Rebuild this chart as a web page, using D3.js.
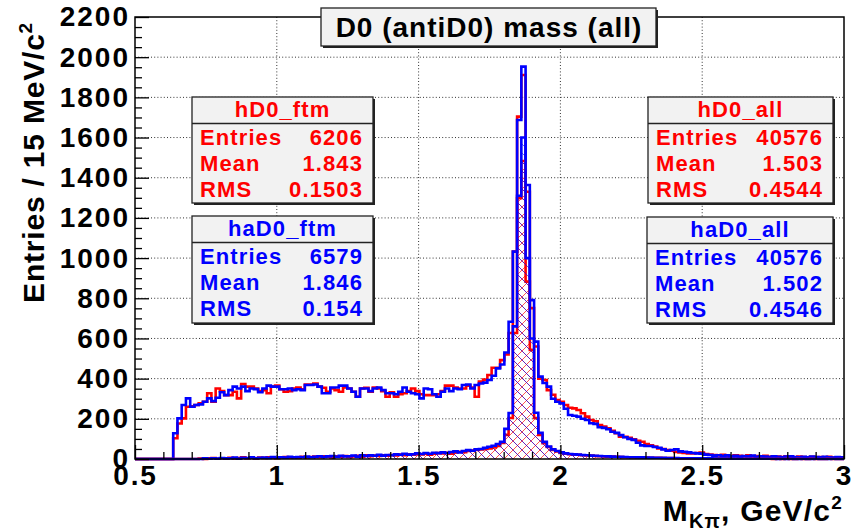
<!DOCTYPE html>
<html>
<head>
<meta charset="utf-8">
<script src="https://cdn.jsdelivr.net/npm/d3@7"></script>
<style>
  body { margin: 0; background: #fff; }
  svg text { font-family: "Liberation Sans", Arial, Helvetica, sans-serif; font-weight: bold; }
</style>
</head>
<body>
<svg id="chart" width="852" height="531"></svg>
<script>
// Histogram binning: 167 bins of ~15 MeV over 0.5 - 3.0 GeV/c^2
const xMin = 0.5, xMax = 3.0, nBins = 167;

// hD0_all : D0 candidates, all (red outline)
const hD0_all = [
  0,0,0,0,0,0,0,0,0,103,
  177,202,260,262,269,277,285,327,285,351,
  338,318,318,335,302,373,360,360,351,338,
  343,327,360,365,347,335,338,351,356,347,
  371,371,376,360,355,335,351,343,335,356,
  351,335,310,351,355,335,356,351,338,310,
  332,310,323,327,338,351,338,322,318,318,
  318,322,338,365,365,356,351,351,365,356,
  310,385,395,418,454,454,492,520,627,1032,
  1704,1911,1330,751,560,400,393,343,320,294,
  285,269,255,252,244,228,211,194,188,169,
  162,153,140,128,111,110,105,98,90,86,
  75,68,62,53,50,45,41,35,32,30,
  28,28,30,32,25,22,20,18,21,17,
  15,19,16,14,18,13,15,12,16,11,
  14,12,10,13,11,9,12,10,8,11,
  9,10,8,11,7,9,8
];

// haD0_all : anti-D0 candidates, all (blue outline)
const haD0_all = [
  0,0,0,0,0,0,0,0,0,128,
  202,269,302,260,269,272,285,302,288,305,
  332,318,343,360,351,360,338,351,348,332,
  351,365,360,360,347,347,351,343,347,343,
  368,368,371,360,327,327,356,356,365,365,
  351,335,310,351,351,338,351,356,343,327,
  327,322,335,356,335,327,322,302,351,347,
  322,310,335,351,338,351,347,368,371,351,
  368,376,380,393,414,451,470,530,683,1032,
  1687,1953,1364,791,584,410,378,360,300,285,
  277,250,219,215,211,200,194,178,175,158,
  155,148,136,130,119,108,100,95,81,68,
  65,65,60,56,48,41,45,48,38,36,
  33,30,28,27,22,20,17,19,15,18,
  14,16,12,15,13,17,11,14,12,10,
  13,11,9,12,14,10,8,11,9,12,
  10,8,11,9,7,10,9
];

// hD0_ftm : D0 candidates passing the ftm selection (red hatched)
const hD0_ftm = [
  0,0,0,0,0,0,0,0,0,0,
  0,0,0,0,0,2,0,3,5,1,
  4,2,6,3,5,8,4,6,3,7,
  5,9,6,4,8,10,6,9,7,11,
  8,10,12,9,13,11,8,14,12,15,
  10,13,16,12,18,14,17,15,19,16,
  20,18,22,19,24,21,25,23,27,22,
  26,29,28,31,27,33,36,34,40,42,
  45,48,50,53,58,65,80,120,204,627,
  1298,1483,883,543,204,120,79,60,45,38,
  30,26,24,22,21,19,18,17,15,14,
  13,12,12,11,10,9,9,8,8,7,
  7,6,6,6,5,5,5,4,4,4,
  4,3,3,3,3,3,2,2,2,2,
  2,2,1,1,1,1,1,1,1,1,
  0,1,0,1,0,0,1,0,0,1,
  0,0,0,1,0,0,0
];

// haD0_ftm : anti-D0 candidates passing the ftm selection (blue hatched)
const haD0_ftm = [
  0,0,0,0,0,0,0,0,0,0,
  0,0,0,0,0,0,3,1,4,2,
  5,3,4,7,2,6,5,8,4,6,
  7,5,10,6,9,7,11,8,10,9,
  12,9,11,14,10,13,15,11,16,13,
  14,17,12,19,15,18,16,21,17,20,
  19,23,21,26,22,24,28,25,30,26,
  31,29,33,30,35,38,33,40,44,41,
  48,50,56,61,66,75,85,150,229,660,
  1310,1600,1000,600,230,130,85,62,48,40,
  33,28,25,23,22,20,19,17,16,15,
  14,13,12,11,11,10,9,9,8,8,
  7,7,6,6,6,5,5,5,4,4,
  4,4,3,3,3,3,2,2,2,2,
  2,2,2,1,1,1,1,1,1,1,
  1,0,1,0,1,0,0,1,0,0,
  1,0,0,0,1,0,0
];

// Axis ticks and labels
const xTickValues = [0.5, 1, 1.5, 2, 2.5, 3];
const xTickLabels = ["0.5", "1", "1.5", "2", "2.5", "3"];
const yTickValues = [0, 200, 400, 600, 800, 1000, 1200, 1400, 1600, 1800, 2000, 2200];

// Statistics boxes
const statNames   = ["hD0_ftm", "haD0_ftm", "hD0_all", "haD0_all"];
const statEntries = ["6206", "6579", "40576", "40576"];
const statMeans   = ["1.843", "1.846", "1.503", "1.502"];
const statRMS     = ["0.1503", "0.154", "0.4544", "0.4546"];

const titleText = "D0 (antiD0) mass (all)";

// ---------------------------------------------------------------
const svg = d3.select("#chart");
const L = 135, R = 844, T = 17, B = 459;
const x = d3.scaleLinear().domain([xMin, xMax]).range([L, R]);
const y = d3.scaleLinear().domain([0, 2200]).range([B, T]);
const binW = (xMax - xMin) / nBins;

const RED = "#ff0000", BLUE = "#0000ff";
const FONT = '"Liberation Sans", Arial, sans-serif';

// hatch patterns
const defs = svg.append("defs");
function hatch(id, color, dirs, width) {
  const s = 9;
  const p = defs.append("pattern").attr("id", id).attr("patternUnits", "userSpaceOnUse")
    .attr("width", s).attr("height", s);
  if (dirs.includes("/")) p.append("path")
    .attr("d", `M-2,2 L2,-2 M0,${s} L${s},0 M${s - 2},${s + 2} L${s + 2},${s - 2}`)
    .attr("stroke", color).attr("stroke-width", width).attr("stroke-opacity", 0.75);
  if (dirs.includes("\\")) p.append("path")
    .attr("d", `M-2,${s - 2} L2,${s + 2} M0,0 L${s},${s} M${s - 2},-2 L${s + 2},2`)
    .attr("stroke", color).attr("stroke-width", width).attr("stroke-opacity", 0.75);
}
hatch("hatchRed", RED, "/\\", 0.9);
hatch("hatchBlue", BLUE, "\\", 0.8);

defs.append("clipPath").attr("id", "plotClip")
  .append("rect").attr("x", L).attr("y", T - 2).attr("width", R - L).attr("height", B - T + 4);

// dotted grid
const grid = svg.append("g").attr("stroke", "#333").attr("stroke-width", 1)
  .attr("stroke-dasharray", "1,2.2");
xTickValues.filter(v => v > xMin && v < xMax).forEach(v => {
  grid.append("line").attr("x1", x(v)).attr("x2", x(v)).attr("y1", T).attr("y2", B);
});
yTickValues.filter(v => v > 0 && v < 2200).forEach(v => {
  grid.append("line").attr("x1", L).attr("x2", R).attr("y1", y(v)).attr("y2", y(v));
});

// histogram outlines as step lines
function stepPoints(vals) {
  const pts = [[xMin, 0]];
  vals.forEach((v, i) => pts.push([xMin + i * binW, v]));
  pts.push([xMax, vals[vals.length - 1]]);
  pts.push([xMax, 0]);
  return pts;
}
const step = d3.line().x(d => x(d[0])).y(d => y(d[1])).curve(d3.curveStepAfter);

const plot = svg.append("g").attr("clip-path", "url(#plotClip)");
function drawHist(vals, color, fill) {
  const d = step(stepPoints(vals));
  if (fill) plot.append("path").attr("d", d).attr("fill", fill).attr("stroke", "none");
  plot.append("path").attr("d", d).attr("fill", "none").attr("stroke", color)
    .attr("stroke-width", 2.6).attr("stroke-linejoin", "miter");
}
drawHist(hD0_all, RED, null);
drawHist(haD0_all, BLUE, null);
drawHist(hD0_ftm, RED, "url(#hatchRed)");
drawHist(haD0_ftm, BLUE, "url(#hatchBlue)");

// frame
svg.append("rect").attr("x", L).attr("y", T).attr("width", R - L).attr("height", B - T)
  .attr("fill", "none").attr("stroke", "#000").attr("stroke-width", 1.5);

// x axis (ticks pointing into the frame)
const xMinor = d3.range(6, 30).map(i => i / 10).filter(v => Math.abs(v * 2 - Math.round(v * 2)) > 1e-6);
svg.append("g").attr("transform", `translate(0,${B})`)
  .call(d3.axisBottom(x).tickValues(xMinor).tickSize(-7).tickFormat(""))
  .call(g => { g.select(".domain").remove(); g.selectAll("line").attr("stroke-width", 1.3); });
const xAx = svg.append("g").attr("transform", `translate(0,${B})`)
  .call(d3.axisBottom(x).tickValues(xTickValues).tickSize(-14).tickPadding(6)
    .tickFormat((d, i) => xTickLabels[i]));
xAx.select(".domain").remove();
xAx.selectAll("line").attr("stroke-width", 1.3);
xAx.selectAll("text").attr("font-size", 28).attr("fill", "#000").attr("letter-spacing", 1.8)
  .attr("font-family", FONT).attr("font-weight", "bold");

// y axis
const yMinor = d3.range(50, 2200, 50).filter(v => v % 200 !== 0);
svg.append("g").attr("transform", `translate(${L},0)`)
  .call(d3.axisLeft(y).tickValues(yMinor).tickSize(-7).tickFormat(""))
  .call(g => { g.select(".domain").remove(); g.selectAll("line").attr("stroke-width", 1.3); });
const yAx = svg.append("g").attr("transform", `translate(${L},0)`)
  .call(d3.axisLeft(y).tickValues(yTickValues).tickSize(-14).tickPadding(5).tickFormat(d3.format("d")));
yAx.select(".domain").remove();
yAx.selectAll("line").attr("stroke-width", 1.3);
yAx.selectAll("text").attr("font-size", 28).attr("fill", "#000").attr("letter-spacing", 2)
  .attr("font-family", FONT).attr("font-weight", "bold");

// axis titles
const xt = svg.append("text").attr("x", 843).attr("y", 521).attr("text-anchor", "end")
  .attr("font-size", 30).attr("letter-spacing", 1.2).attr("fill", "#000");
xt.append("tspan").text("M");
xt.append("tspan").attr("dy", 7).attr("font-size", 20).text("Kπ");
xt.append("tspan").attr("dy", -7).text(", GeV/c");
xt.append("tspan").attr("dy", -12).attr("font-size", 19).text("2");

const yt = svg.append("text").attr("transform", "translate(44,22) rotate(-90)")
  .attr("text-anchor", "end").attr("font-size", 30).attr("letter-spacing", 0.8).attr("fill", "#000");
yt.append("tspan").text("Entries / 15 MeV/c");
yt.append("tspan").attr("dy", -12).attr("font-size", 19).text("2");

// title box
function paveBox(x0, y0, w, h) {
  svg.append("rect").attr("x", x0 + 2).attr("y", y0 + 2).attr("width", w).attr("height", h).attr("fill", "#222");
  svg.append("rect").attr("x", x0).attr("y", y0).attr("width", w).attr("height", h)
    .attr("fill", "#f2f2f2").attr("stroke", "#222").attr("stroke-width", 1.3);
}
paveBox(321, 8, 335, 38);
svg.append("text").attr("x", 489).attr("y", 37).attr("text-anchor", "middle")
  .attr("font-size", 28).attr("letter-spacing", 1).attr("fill", "#000").text(titleText);

// stats boxes
const boxes = [
  { x: 192, y: 97,  w: 181, h: 106, color: RED },
  { x: 192, y: 216, w: 181, h: 107, color: BLUE },
  { x: 648, y: 97,  w: 185, h: 106, color: RED },
  { x: 647, y: 217, w: 186, h: 106, color: BLUE }
];
boxes.forEach((b, i) => {
  paveBox(b.x, b.y, b.w, b.h);
  svg.append("line").attr("x1", b.x).attr("x2", b.x + b.w).attr("y1", b.y + 26.5).attr("y2", b.y + 26.5)
    .attr("stroke", "#222").attr("stroke-width", 1.3);
  const g = svg.append("g").attr("fill", b.color).attr("font-size", 22).attr("letter-spacing", 1.1);
  g.append("text").attr("x", b.x + b.w / 2).attr("y", b.y + 20).attr("text-anchor", "middle").text(statNames[i]);
  const labels = ["Entries", "Mean", "RMS"];
  const vals = [statEntries[i], statMeans[i], statRMS[i]];
  labels.forEach((lab, j) => {
    const by = b.y + 48 + j * 26;
    g.append("text").attr("x", b.x + 8).attr("y", by).text(lab);
    g.append("text").attr("x", b.x + b.w - 10).attr("y", by).attr("text-anchor", "end").text(vals[j]);
  });
});
</script>
</body>
</html>
